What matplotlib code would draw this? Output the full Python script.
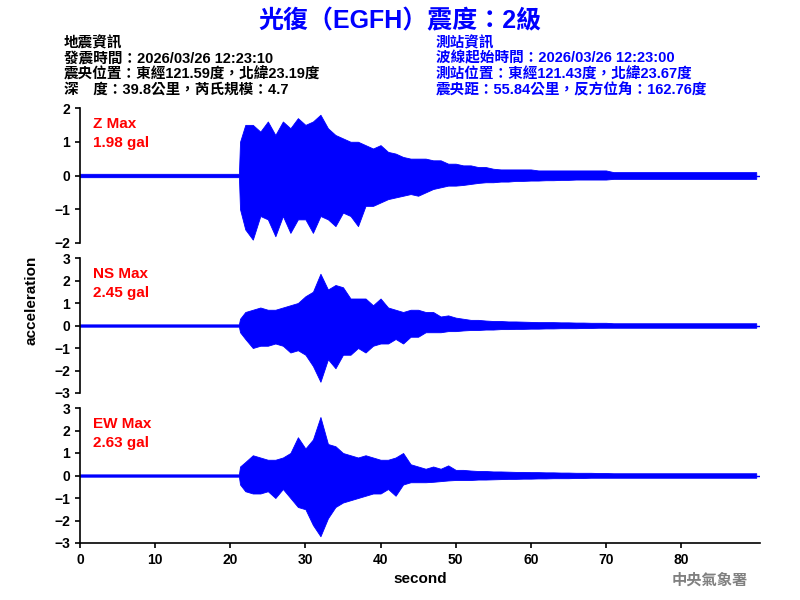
import matplotlib
matplotlib.use("Agg")
import matplotlib.pyplot as plt

plt.rcParams['font.family'] = ['Liberation Sans', 'Noto Sans CJK TC', 'DejaVu Sans']
plt.rcParams['font.weight'] = 'bold'
plt.rcParams['axes.labelweight'] = 'bold'

t = list(range(21)) + [21.15, 21.3] + list(range(22, 91))
pre = [0.05] * 22

z_up = pre + [1.0, 1.5, 1.5, 1.3, 1.6, 1.2, 1.6, 1.4, 1.7, 1.5, 1.6, 1.8, 1.4, 1.2, 1.1, 1.0, 1.0, 0.9, 0.8, 0.9,
              0.7, 0.65, 0.55, 0.5, 0.5, 0.5, 0.45, 0.45, 0.35, 0.35, 0.3, 0.3, 0.25, 0.25, 0.2, 0.18, 0.18, 0.18, 0.18, 0.18,
              0.15, 0.15, 0.15, 0.15, 0.15, 0.15, 0.15, 0.15, 0.15, 0.15] + [0.1] * 20
z_lo = [-0.05] * 22 + [-1.0, -1.6, -1.9, -1.2, -1.3, -1.8, -1.2, -1.7, -1.3, -1.3, -1.7, -1.2, -1.3, -1.5, -1.1, -1.2, -1.5, -0.9, -0.9, -0.8,
              -0.7, -0.65, -0.6, -0.55, -0.6, -0.5, -0.4, -0.35, -0.3, -0.3, -0.28, -0.25, -0.22, -0.2, -0.2, -0.18, -0.18, -0.16, -0.16, -0.15,
              -0.15, -0.14, -0.14, -0.13, -0.13, -0.12, -0.12, -0.12, -0.12, -0.12] + [-0.1] * 20
ns_up = pre + [0.3, 0.6, 0.7, 0.8, 0.7, 0.7, 0.8, 0.9, 1.0, 1.3, 1.5, 2.3, 1.6, 1.8, 1.7, 1.2, 1.2, 1.2, 0.9, 1.2,
               0.8, 0.7, 0.6, 0.7, 0.7, 0.6, 0.6, 0.4, 0.45, 0.35, 0.3, 0.25, 0.25, 0.22, 0.2, 0.2, 0.18, 0.18, 0.17, 0.16,
               0.15, 0.15, 0.15, 0.14, 0.14, 0.13, 0.13, 0.12, 0.12, 0.12] + [0.1] * 20
ns_lo = [-0.05] * 22 + [-0.3, -0.6, -1.0, -0.9, -0.9, -0.8, -0.9, -1.2, -1.1, -1.3, -1.8, -2.5, -1.5, -1.9, -1.3, -1.3, -1.0, -1.2, -0.9, -0.8,
               -0.8, -0.6, -0.8, -0.5, -0.5, -0.3, -0.3, -0.3, -0.25, -0.25, -0.22, -0.2, -0.2, -0.18, -0.18, -0.16, -0.16, -0.15, -0.15, -0.14,
               -0.14, -0.13, -0.13, -0.12, -0.12, -0.12, -0.11, -0.11, -0.1, -0.1] + [-0.1] * 20
ew_up = pre + [0.4, 0.6, 0.9, 0.8, 0.7, 0.7, 0.8, 1.0, 1.7, 1.2, 1.6, 2.6, 1.4, 1.3, 1.0, 0.9, 0.8, 0.9, 0.8, 0.7,
               0.7, 0.8, 1.0, 0.5, 0.4, 0.3, 0.4, 0.3, 0.45, 0.25, 0.25, 0.22, 0.2, 0.2, 0.18, 0.18, 0.17, 0.16, 0.16, 0.15,
               0.15, 0.14, 0.14, 0.13, 0.13, 0.12, 0.12, 0.12, 0.11, 0.11] + [0.1] * 20
ew_lo = [-0.05] * 22 + [-0.4, -0.7, -0.8, -0.8, -0.7, -1.0, -0.6, -1.0, -1.4, -1.5, -2.2, -2.7, -1.9, -1.4, -1.2, -1.1, -1.0, -0.9, -0.8, -0.8,
               -0.6, -0.9, -0.4, -0.3, -0.3, -0.3, -0.28, -0.25, -0.22, -0.2, -0.2, -0.2, -0.18, -0.18, -0.17, -0.16, -0.15, -0.15, -0.14, -0.14,
               -0.13, -0.13, -0.12, -0.12, -0.12, -0.11, -0.11, -0.1, -0.1, -0.1] + [-0.1] * 20

labels = ["Z Max\n1.98 gal", "NS Max\n2.45 gal", "EW Max\n2.63 gal"]
ylims = [(-2, 2), (-3, 3), (-3, 3)]
ups = [z_up, ns_up, ew_up]
los = [z_lo, ns_lo, ew_lo]

fig = plt.figure(figsize=(8, 6), dpi=100)
boxes = [(0.1, 0.595, 0.85, 0.225), (0.1, 0.345, 0.85, 0.225), (0.1, 0.095, 0.85, 0.225)]
for i, b in enumerate(boxes):
    ax = fig.add_axes(b)
    ax.fill_between(t, los[i], ups[i], color='blue', lw=0.6)
    ax.plot([0, 90.5], [0, 0], color='blue', lw=1)
    ax.set_xlim(0, 90.5)
    ax.set_ylim(*ylims[i])
    ax.set_yticks(range(ylims[i][0], ylims[i][1] + 1))
    for s in ['top', 'right']:
        ax.spines[s].set_visible(False)
    ax.spines['left'].set_linewidth(1.2)
    ax.tick_params(labelsize=10, width=1.2)
    ax.text(0.019, 0.93, labels[i], transform=ax.transAxes, color='red', fontsize=11,
            va='top', ha='left', linespacing=1.4)
    if i < 2:
        ax.spines['bottom'].set_visible(False)
        ax.set_xticks([])
    else:
        ax.set_xticks(range(0, 90, 10))
        ax.spines['bottom'].set_linewidth(1.2)
        ax.set_xlabel('second', fontsize=11, fontweight='bold')

fig.text(0.04, 0.5, 'acceleration', rotation=90, fontsize=11, va='center', ha='center')
fig.text(0.5, 0.965, '光復（EGFH）震度：2級', color='blue', fontsize=18, fontweight='bold',
         ha='center', va='center')
left = "地震資訊\n發震時間：2026/03/26 12:23:10\n震央位置：東經121.59度，北緯23.19度\n深　度：39.8公里，芮氏規模：4.7"
right = "測站資訊\n波線起始時間：2026/03/26 12:23:00\n測站位置：東經121.43度，北緯23.67度\n震央距：55.84公里，反方位角：162.76度"
fig.text(0.08, 0.94, left, fontsize=10.5, va='top', ha='left', linespacing=1.12)
fig.text(0.545, 0.94, right, fontsize=10.5, va='top', ha='left', color='blue', linespacing=1.12)
fig.text(0.935, 0.032, '中央氣象署', color='gray', fontsize=11, ha='right', va='center')
fig.savefig('out.png', dpi=100)
